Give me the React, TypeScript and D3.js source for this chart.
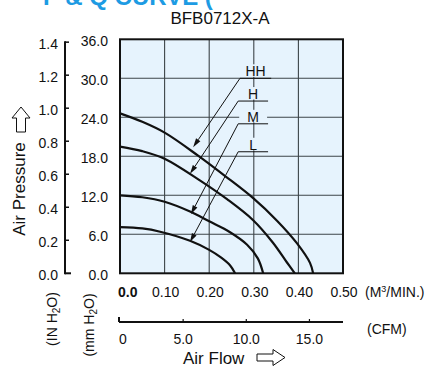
import React from "react";
import * as d3 from "d3";

// ---- data ----
const FLOW_TICKS = [0, 0.1, 0.2, 0.3, 0.4, 0.5];
const FLOW_LABELS = ["0.0", "0.10", "0.20", "0.30", "0.40", "0.50"];
const MM_TICKS = [0, 6, 12, 18, 24, 30, 36];
const MM_LABELS = ["0.0", "6.0", "12.0", "18.0", "24.0", "30.0", "36.0"];
const IN_TICKS = [0, 0.2, 0.4, 0.6, 0.8, 1.0, 1.2, 1.4];
const IN_LABELS = ["0.0", "0.2", "0.4", "0.6", "0.8", "1.0", "1.2", "1.4"];
const CFM_TICKS = [0, 5, 10, 15];
const CFM_LABELS = ["0", "5.0", "10.0", "15.0"];

const SPEEDS = ["HH", "H", "M", "L"];
const HH_FLOW = [0, 0.05, 0.101, 0.175, 0.235, 0.298, 0.352, 0.397, 0.426, 0.433];
const HH_P = [24.6, 23.3, 21.6, 18.1, 15.0, 11.6, 8.1, 4.6, 1.6, 0];
const H_FLOW = [0, 0.05, 0.101, 0.179, 0.24, 0.298, 0.343, 0.374, 0.392];
const H_P = [19.5, 18.8, 17.6, 14.3, 11.4, 8.2, 4.7, 1.7, 0];
const M_FLOW = [0, 0.05, 0.1, 0.157, 0.2, 0.245, 0.285, 0.309, 0.321];
const M_P = [12.0, 11.7, 11.0, 9.5, 8.0, 6.4, 4.4, 2.3, 0];
const L_FLOW = [0, 0.05, 0.09, 0.157, 0.2, 0.227, 0.247, 0.258];
const L_P = [7.1, 6.9, 6.4, 5.0, 3.6, 2.4, 1.2, 0];

const LABEL_LEVEL = [30.0, 26.5, 23.0, 18.7];
const LABEL_FROM = [0.269, 0.265, 0.265, 0.265];
const LABEL_TO = [0.339, 0.332, 0.332, 0.332];
const ARROW_FLOW = [0.164, 0.157, 0.159, 0.157];
const ARROW_P = [19.4, 15.3, 9.1, 4.8];

const MM_PER_IN = 25.4;
const CFM_PER_M3MIN = 35.315;

const FONT = "'Liberation Sans', Arial, Helvetica, sans-serif";

export default function App() {
  const x = d3.scaleLinear().domain([0, 0.5]).range([120, 343]);
  const y = d3.scaleLinear().domain([0, 36]).range([273.3, 39.3]);
  const line = d3
    .line<[number, number]>()
    .x((d) => x(d[0]))
    .y((d) => y(d[1]))
    .curve(d3.curveCatmullRom.alpha(0.5));

  const series: [number[], number[]][] = [
    [HH_FLOW, HH_P],
    [H_FLOW, H_P],
    [M_FLOW, M_P],
    [L_FLOW, L_P],
  ];

  const x0 = x(0), x1 = x(0.5), yTop = y(36), yBot = y(0);
  const inAxisX = 65;

  return (
    <svg
      width={432}
      height={374}
      style={{ position: "absolute", left: 0, top: 0, background: "#fff" }}
      fontFamily={FONT}
    >
      {/* cut-off blue heading */}
      <text x={43} y={5} fontSize={24} fontWeight="bold" fill="#1d9be3">
        P &amp; Q CURVE (
      </text>
      <text x={220} y={24} fontSize={17} textAnchor="middle" fill="#111">
        BFB0712X-A
      </text>

      {/* plot background */}
      <rect x={x0} y={yTop} width={x1 - x0} height={yBot - yTop} fill="#e6f3fd" />
      {/* grid */}
      {FLOW_TICKS.slice(1, -1).map((t) => (
        <line key={"gx" + t} x1={x(t)} x2={x(t)} y1={yTop} y2={yBot} stroke="#3c4448" strokeWidth={1.1} />
      ))}
      {MM_TICKS.slice(1, -1).map((t) => (
        <line key={"gy" + t} x1={x0} x2={x1} y1={y(t)} y2={y(t)} stroke="#3c4448" strokeWidth={1.1} />
      ))}

      {/* speed labels and leaders */}
      {SPEEDS.map((s, i) => {
        const ly = y(LABEL_LEVEL[i]);
        const lx0 = x(LABEL_FROM[i]);
        const lx1 = x(LABEL_TO[i]);
        const tx = x(ARROW_FLOW[i]);
        const ty = y(ARROW_P[i]);
        const dx = tx - lx0, dy = ty - ly;
        const len = Math.hypot(dx, dy);
        const ux = dx / len, uy = dy / len;
        const bx = tx - ux * 9, by = ty - uy * 9;
        const px = -uy * 2.6, py = ux * 2.6;
        const cx = (lx0 + lx1) / 2;
        return (
          <g key={s}>
            <rect x={lx0 + 1} y={ly - 14} width={lx1 - lx0 - 2} height={12.5} fill="#e6f3fd" />
            <line x1={lx0} x2={lx1} y1={ly} y2={ly} stroke="#111" strokeWidth={1} />
            <line x1={lx0} y1={ly} x2={bx} y2={by} stroke="#111" strokeWidth={1} />
            <path d={`M${tx},${ty}L${bx + px},${by + py}L${bx - px},${by - py}Z`} fill="#111" />
            <text x={cx} y={ly - 2} fontSize={14} textAnchor="middle" fill="#111">
              {s}
            </text>
          </g>
        );
      })}

      {/* curves */}
      {series.map(([f, p], i) => (
        <path
          key={"c" + i}
          d={line(f.map((v, j) => [v, p[j]] as [number, number])) || ""}
          fill="none"
          stroke="#111"
          strokeWidth={2.2}
        />
      ))}

      {/* border */}
      <rect x={x0} y={yTop} width={x1 - x0} height={yBot - yTop} fill="none" stroke="#111" strokeWidth={2} />

      {/* mm labels */}
      {MM_TICKS.map((t, i) => (
        <text key={"mm" + t} x={108} y={y(t) + 7} fontSize={14} textAnchor="end" fill="#111">
          {MM_LABELS[i]}
        </text>
      ))}

      {/* inch axis */}
      <line x1={inAxisX} x2={inAxisX} y1={y(1.4 * MM_PER_IN) - 1} y2={yBot + 1} stroke="#111" strokeWidth={2} />
      {IN_TICKS.map((t, i) => (
        <g key={"in" + t}>
          <line
            x1={inAxisX}
            x2={inAxisX + (t === 0 ? 6 : 4)}
            y1={y(t * MM_PER_IN)}
            y2={y(t * MM_PER_IN)}
            stroke="#111"
            strokeWidth={t === 0 ? 2 : 1.5}
          />
          <text x={58} y={y(t * MM_PER_IN) + 7} fontSize={14} textAnchor="end" fill="#111">
            {IN_LABELS[i]}
          </text>
        </g>
      ))}

      {/* flow labels */}
      {FLOW_TICKS.map((t, i) => (
        <text
          key={"fx" + t}
          x={i === 0 ? x(t) - 2 : x(t) + 1}
          y={297}
          fontSize={14}
          fontWeight={i === 0 ? "bold" : "normal"}
          textAnchor={i === 0 ? "start" : "middle"}
          fill="#111"
        >
          {FLOW_LABELS[i]}
        </text>
      ))}
      <text x={365} y={297} fontSize={14} fill="#111">
        (M<tspan fontSize={9} dy={-5}>3</tspan>
        <tspan dy={5}>/MIN.)</tspan>
      </text>

      {/* CFM axis */}
      <line x1={x0 - 1} x2={x1} y1={322} y2={322} stroke="#111" strokeWidth={2} />
      {CFM_TICKS.map((t, i) => {
        const px = x(t / CFM_PER_M3MIN);
        return (
          <g key={"cfm" + t}>
            <line x1={px - (i === 0 ? 1 : 0)} x2={px - (i === 0 ? 1 : 0)} y1={i === 0 ? 317 : 319} y2={322} stroke="#111" strokeWidth={i === 0 ? 2 : 1.2} />
            <text
              x={i === 0 ? px - 1 : px}
              y={344}
              fontSize={14}
              textAnchor={i === 0 ? "start" : "middle"}
              fill="#111"
            >
              {CFM_LABELS[i]}
            </text>
          </g>
        );
      })}
      <text x={367} y={334} fontSize={14} fill="#111">
        (CFM)
      </text>

      {/* axis titles */}
      <text x={183} y={364} fontSize={17} fill="#111">
        Air Flow
      </text>
      <path
        d="M257,354 L273,354 L273,349.5 L285,357.5 L273,365.5 L273,361 L257,361 Z"
        fill="#fff"
        stroke="#111"
        strokeWidth={1}
      />
      <text transform="translate(25,189) rotate(-90)" fontSize={17} textAnchor="middle" fill="#111">
        Air Pressure
      </text>
      <path
        d="M21,107 L30,118 L25.5,118 L25.5,132 L16.5,132 L16.5,118 L12,118 Z"
        fill="#fff"
        stroke="#111"
        strokeWidth={1}
      />
      <text transform="translate(57,319) rotate(-90)" fontSize={14} textAnchor="middle" fill="#111">
        (IN H<tspan fontSize={10} dy={3}>2</tspan>
        <tspan dy={-3}>O)</tspan>
      </text>
      <text transform="translate(94,325) rotate(-90)" fontSize={14} textAnchor="middle" fill="#111">
        (mm H<tspan fontSize={10} dy={3}>2</tspan>
        <tspan dy={-3}>O)</tspan>
      </text>
    </svg>
  );
}
